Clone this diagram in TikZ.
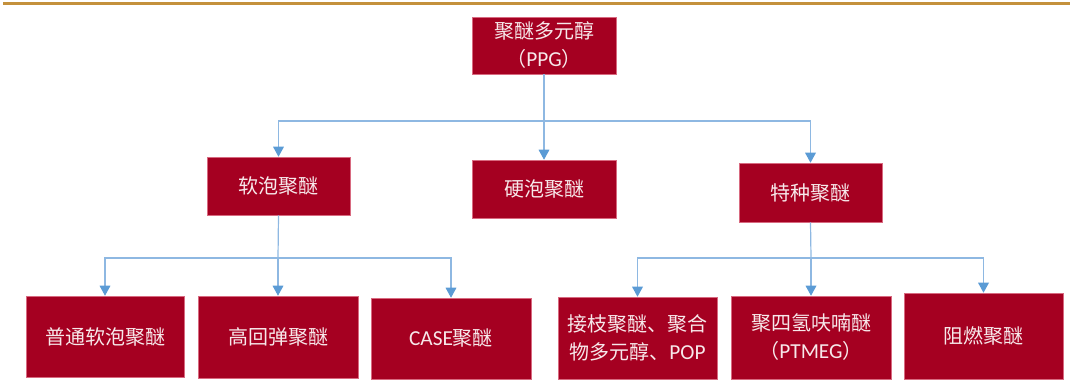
\documentclass[tikz,border=0pt]{standalone}
\usepackage{fontspec}
\setmainfont{Carlito}
\newfontfamily\cjk{Noto Sans CJK SC}
\newfontfamily\lat{Carlito}
\usetikzlibrary{arrows.meta}
\definecolor{boxred}{HTML}{A50021}
\definecolor{boxedge}{HTML}{D86A80}
\definecolor{boxtext}{HTML}{F7E8EA}
\definecolor{linkblue}{HTML}{8EB8E2}
\definecolor{tipblue}{HTML}{5B9BD5}
\definecolor{gold}{HTML}{C4913C}
\tikzset{
  box/.style={fill=boxred, draw=boxedge, line width=0.4pt, inner sep=0pt,
    text=boxtext, align=center, font=\fontsize{15pt}{21pt}\selectfont},
  link/.style={draw=linkblue, line width=0.9pt},
  arr/.style={link, -{Triangle[width=8pt,length=7.5pt,color=tipblue]}},
}
\begin{document}
\begin{tikzpicture}[x=0.75pt,y=-0.75pt]
\useasboundingbox (0,0) rectangle (1070,387);
\draw[gold, line width=2.25pt] (3,3.5) -- (1070,3.5);
% level 0
\node[box, minimum width=108pt, minimum height=42.75pt] (ppg) at (544,45.5)
  {{\cjk 聚醚多元醇}\\{\cjk （}{\lat\fontsize{16pt}{21pt}\selectfont PPG}{\cjk ）}};
% level 1
\node[box, minimum width=107.25pt, minimum height=43.5pt] (soft) at (278.5,186) {\cjk 软泡聚醚};
\node[box, minimum width=108pt, minimum height=43.5pt] (hard) at (544,189) {\cjk 硬泡聚醚};
\node[box, minimum width=107.25pt, minimum height=44.25pt] (special) at (810.5,192.5) {\cjk 特种聚醚};
% level 2
\node[box, minimum width=118.5pt, minimum height=60.75pt] (b1) at (105,336.5) {\cjk 普通软泡聚醚};
\node[box, minimum width=120pt, minimum height=61.5pt] (b2) at (278,337) {\cjk 高回弹聚醚};
\node[box, minimum width=120pt, minimum height=60.75pt] (b3) at (451,338.5) {{\lat\fontsize{16pt}{21pt}\selectfont CASE}{\cjk 聚醚}};
\node[box, minimum width=119.25pt, minimum height=61.5pt] (b4) at (637.5,338)
  {{\cjk 接枝聚醚、聚合}\\{\cjk 物多元醇、}{\lat\fontsize{16pt}{21pt}\selectfont POP}};
\node[box, minimum width=120pt, minimum height=62.25pt] (b5) at (811,337.5)
  {{\cjk 聚四氢呋喃醚}\\{\cjk （}{\lat\fontsize{16pt}{21pt}\selectfont PTMEG}{\cjk ）}};
\node[box, minimum width=119.25pt, minimum height=64.5pt] (b6) at (983.5,336) {\cjk 阻燃聚醚};
% hubs
\coordinate (hub1) at (544,121);
\coordinate (hub2) at (278,258);
\coordinate (hub3) at (811,258);
% connectors
\draw[link] (ppg.south) -- (hub1);
\draw[arr] (hub1) -| (soft.north);
\draw[arr] (hub1) -- (hard.north);
\draw[arr] (hub1) -| (special.north);
\draw[link] (soft.south) -- (hub2);
\draw[arr] (hub2) -| (b1.north);
\draw[arr] (hub2) -- (b2.north);
\draw[arr] (hub2) -| (b3.north);
\draw[link] (special.south) -- (hub3);
\draw[arr] (hub3) -| (b4.north);
\draw[arr] (hub3) -- (b5.north);
\draw[arr] (hub3) -| (b6.north);
\end{tikzpicture}
\end{document}
